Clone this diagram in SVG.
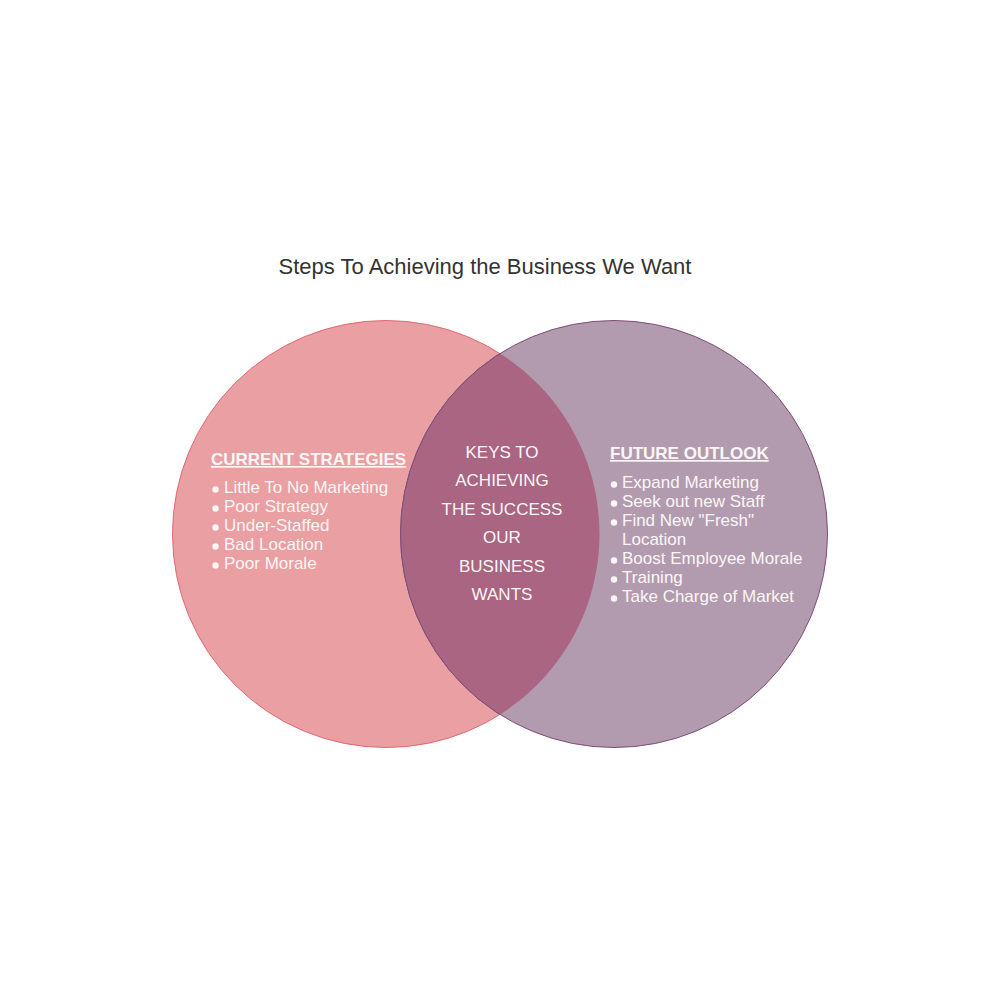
<svg xmlns="http://www.w3.org/2000/svg" width="1000" height="1000" viewBox="0 0 1000 1000">
<style>
text{font-family:"Liberation Sans",Arial,sans-serif;fill:#fbf6f6;font-size:17px}
.title{fill:#333;font-size:22px}
.head{font-weight:bold;text-decoration:underline}
.c{text-anchor:middle}
.b{fill:#fbf6f6}
</style>
<defs>
<clipPath id="clipL"><circle cx="386" cy="534" r="213.5"/></clipPath>
</defs>
<rect width="1000" height="1000" fill="#fff"/>
<text class="title" x="485" y="274" text-anchor="middle">Steps To Achieving the Business We Want</text>
<g id="left-circle">
<circle cx="386" cy="534" r="213.5" fill="#EA9FA2" stroke="#E06A78" stroke-width="1"/>
</g>
<g id="right-circle">
<circle cx="614" cy="534" r="213.5" fill="#B39BAF" stroke="#7E4F76" stroke-width="1"/>
</g>
<g id="intersection">
<circle cx="614" cy="534" r="213.5" fill="#A96581" stroke="#7E4F76" stroke-width="1" clip-path="url(#clipL)"/>
</g>
<g id="left-text">
<text class="head" x="211" y="465">CURRENT STRATEGIES</text>
<circle class="b" cx="215.5" cy="489.5" r="3.2"/>
<circle class="b" cx="215.5" cy="508.5" r="3.2"/>
<circle class="b" cx="215.5" cy="527.5" r="3.2"/>
<circle class="b" cx="215.5" cy="546.5" r="3.2"/>
<circle class="b" cx="215.5" cy="565.5" r="3.2"/>
<text x="224" y="493">Little To No Marketing</text>
<text x="224" y="512">Poor Strategy</text>
<text x="224" y="531">Under-Staffed</text>
<text x="224" y="550">Bad Location</text>
<text x="224" y="569">Poor Morale</text>
</g>
<g id="right-text">
<text class="head" x="610" y="459">FUTURE OUTLOOK</text>
<circle class="b" cx="614" cy="484.5" r="3.2"/>
<circle class="b" cx="614" cy="503.5" r="3.2"/>
<circle class="b" cx="614" cy="522.5" r="3.2"/>
<circle class="b" cx="614" cy="560.5" r="3.2"/>
<circle class="b" cx="614" cy="579.5" r="3.2"/>
<circle class="b" cx="614" cy="598.5" r="3.2"/>
<text x="622" y="488">Expand Marketing</text>
<text x="622" y="507">Seek out new Staff</text>
<text x="622" y="526">Find New "Fresh"</text>
<text x="622" y="545">Location</text>
<text x="622" y="564">Boost Employee Morale</text>
<text x="622" y="583">Training</text>
<text x="622" y="602">Take Charge of Market</text>
</g>
<g id="center-text">
<text class="c" x="502" y="458">KEYS TO</text>
<text class="c" x="502" y="486">ACHIEVING</text>
<text class="c" x="502" y="515">THE SUCCESS</text>
<text class="c" x="502" y="543">OUR</text>
<text class="c" x="502" y="572">BUSINESS</text>
<text class="c" x="502" y="600">WANTS</text>
</g>
<g id="connectors"/>
</svg>
